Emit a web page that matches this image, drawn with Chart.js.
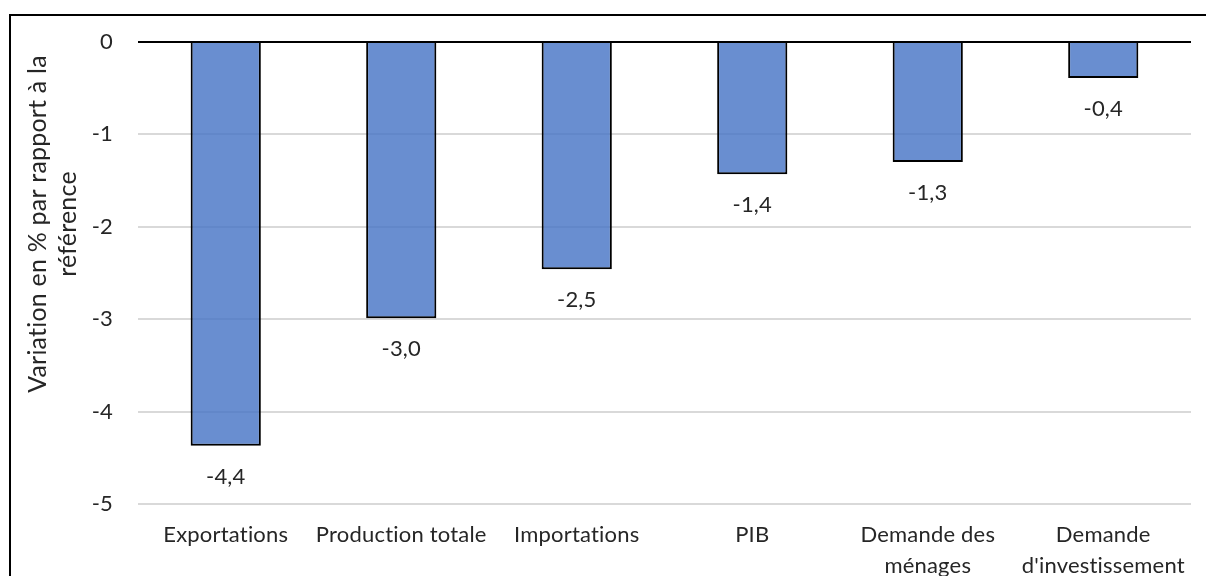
<!DOCTYPE html>
<html lang="fr">
<head>
<meta charset="utf-8">
<title>Variation en % par rapport à la référence</title>
<script src="https://cdn.jsdelivr.net/npm/chart.js@4/dist/chart.umd.min.js"></script>
<style>
  html, body { margin: 0; padding: 0; background: #ffffff; }
  #wrap { position: relative; width: 1206px; height: 576px; overflow: hidden; }
  canvas { display: block; }
</style>
</head>
<body>
<div id="wrap"><canvas id="chart" width="1206" height="576"></canvas></div>
<script>
// Categories (multi-line ones as arrays of lines)
const categories = [
  'Exportations',
  'Production totale',
  'Importations',
  'PIB',
  ['Demande des', 'ménages'],
  ['Demande', "d'investissement"]
];

// Variation in % relative to the reference scenario
const values = [-4.37, -2.99, -2.46, -1.43, -1.30, -0.39];

// Value axis bounds and step
const yMin = -5;
const yMax = 0;
const yStep = 1;

// Axis title lines
const yTitleLines = ['Variation en % par rapport à la', 'référence'];

const FONT = 'Lato, "Liberation Sans", Arial, sans-serif';
const TEXT = '#262626';

function fmt(v) {
  return v.toFixed(1).replace('.', ',');
}

// A tiny letter spacing keeps "ti" from turning into a ligature
const spacingPlugin = {
  id: 'spacing',
  beforeDraw(chart) {
    if ('letterSpacing' in chart.ctx) chart.ctx.letterSpacing = '0.2px';
  }
};

// Frame line around the chart (top and left edges visible)
const framePlugin = {
  id: 'frame',
  afterDraw(chart) {
    const c = chart.ctx;
    c.save();
    c.strokeStyle = '#000000';
    c.lineWidth = 2;
    c.beginPath();
    c.moveTo(chart.width + 2, 15);
    c.lineTo(10, 15);
    c.lineTo(10, chart.height + 2);
    c.stroke();
    c.restore();
  }
};

// Rotated, two-line value-axis title
const yTitlePlugin = {
  id: 'yTitle',
  afterDraw(chart) {
    const c = chart.ctx;
    c.save();
    c.fillStyle = TEXT;
    c.font = '25px ' + FONT;
    c.textAlign = 'center';
    c.textBaseline = 'alphabetic';
    c.translate(0, 224);
    c.rotate(-Math.PI / 2);
    const baselines = [46, 76];
    yTitleLines.forEach((line, i) => {
      c.fillText(line, 0, baselines[i]);
    });
    c.restore();
  }
};

// Value labels under each bar end
const valueLabelPlugin = {
  id: 'valueLabels',
  afterDatasetsDraw(chart) {
    const c = chart.ctx;
    const meta = chart.getDatasetMeta(0);
    c.save();
    c.fillStyle = TEXT;
    c.font = '22px ' + FONT;
    c.textAlign = 'center';
    c.textBaseline = 'middle';
    meta.data.forEach((bar, i) => {
      c.fillText(fmt(chart.data.datasets[0].data[i]), bar.x, bar.y + 31);
    });
    c.restore();
  }
};

new Chart(document.getElementById('chart'), {
  type: 'bar',
  data: {
    labels: categories,
    datasets: [{
      data: values,
      backgroundColor: 'rgba(68, 114, 196, 0.8)',
      borderColor: '#000000',
      borderWidth: 2,
      borderSkipped: 'start',
      barPercentage: 0.4,
      categoryPercentage: 1.0
    }]
  },
  options: {
    responsive: false,
    animation: false,
    devicePixelRatio: 1,
    layout: { padding: { top: 42, right: 15, bottom: 0, left: 0 } },
    plugins: {
      legend: { display: false },
      tooltip: { enabled: false },
      title: { display: false }
    },
    scales: {
      x: {
        grid: { display: false, drawTicks: false },
        border: { display: false },
        ticks: {
          color: TEXT,
          font: { family: FONT, size: 22, lineHeight: 1.4 },
          padding: 16,
          maxRotation: 0,
          autoSkip: false
        },
        afterFit(scale) { scale.height = 72; }
      },
      y: {
        min: yMin,
        max: yMax,
        grid: {
          drawTicks: false,
          color: (ctx) => (ctx.tick && ctx.tick.value === 0 ? '#000000' : '#d9d9d9'),
          lineWidth: 2
        },
        border: { display: false },
        ticks: {
          stepSize: yStep,
          color: TEXT,
          font: { family: FONT, size: 22 },
          padding: 25
        },
        afterFit(scale) { scale.width = 138; }
      }
    }
  },
  plugins: [spacingPlugin, framePlugin, yTitlePlugin, valueLabelPlugin]
});
</script>
</body>
</html>
